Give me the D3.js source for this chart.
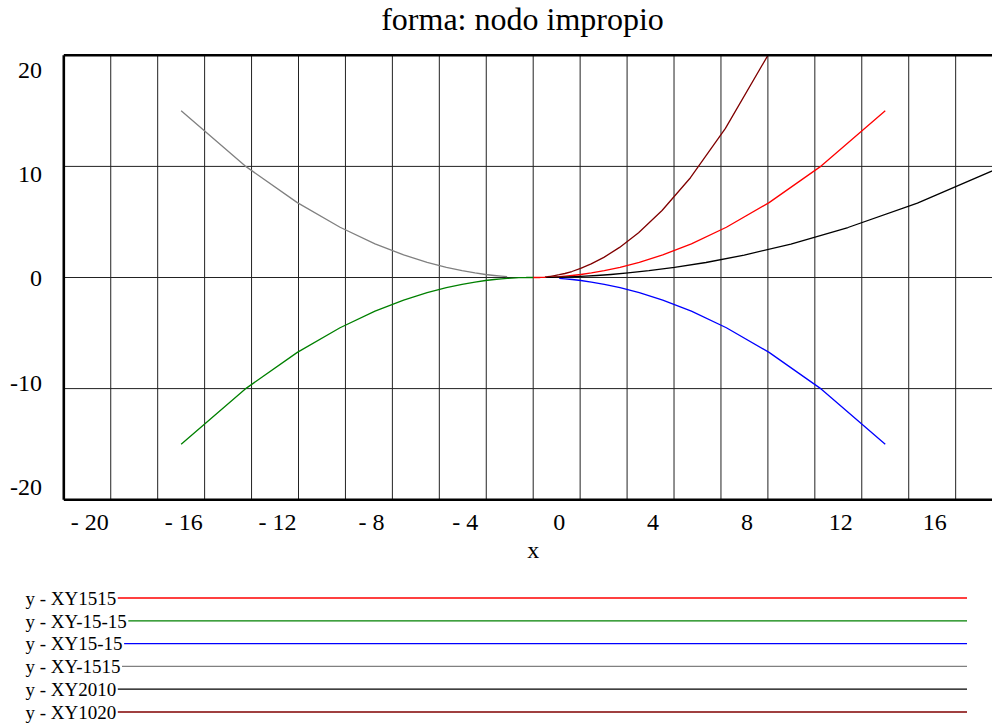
<!DOCTYPE html>
<html>
<head>
<meta charset="utf-8">
<script src="https://cdn.jsdelivr.net/npm/d3@7"></script>
<style>
  html, body { margin: 0; padding: 0; background: #fff; }
  svg { display: block; }
</style>
</head>
<body>
<svg id="chart" width="992" height="724"></svg>
<script>
// Trajectories of the phase portrait, sampled along each solution curve.
const seriesNames = ["y - XY1515", "y - XY-15-15", "y - XY15-15", "y - XY-1515", "y - XY2010", "y - XY1020"];
const seriesColors = ["#ff0000", "#008000", "#0000ff", "#808080", "#000000", "#800000"];

const xy1515X = [15, 12.28, 10.05, 8.23, 6.74, 5.52, 4.52, 3.70, 3.03, 2.48, 2.03, 1.66, 1.36, 1.11, 0.91, 0.75, 0.61, 0.50, 0.41, 0.33, 0.27, 0.20, 0.10, 0];
const xy1515Y = [15, 10.05, 6.74, 4.52, 3.03, 2.03, 1.36, 0.91, 0.61, 0.41, 0.27, 0.18, 0.12, 0.08, 0.06, 0.04, 0.02, 0.02, 0.01, 0.01, 0, 0, 0, 0];

const xyM15M15X = [-15, -12.28, -10.05, -8.23, -6.74, -5.52, -4.52, -3.70, -3.03, -2.48, -2.03, -1.66, -1.36, -1.11, -0.91, -0.75, -0.61, -0.50, -0.41, -0.33, -0.27, -0.20, -0.10, 0];
const xyM15M15Y = [-15, -10.05, -6.74, -4.52, -3.03, -2.03, -1.36, -0.91, -0.61, -0.41, -0.27, -0.18, -0.12, -0.08, -0.06, -0.04, -0.02, -0.02, -0.01, -0.01, 0, 0, 0, 0];

const xy15M15X = [15, 12.28, 10.05, 8.23, 6.74, 5.52, 4.52, 3.70, 3.03, 2.48, 2.03, 1.66, 1.36, 1.11];
const xy15M15Y = [-15, -10.05, -6.74, -4.52, -3.03, -2.03, -1.36, -0.91, -0.61, -0.41, -0.27, -0.18, -0.12, -0.08];

const xyM1515X = [-15, -12.28, -10.05, -8.23, -6.74, -5.52, -4.52, -3.70, -3.03, -2.48, -2.03, -1.66, -1.36, -1.11];
const xyM1515Y = [15, 10.05, 6.74, 4.52, 3.03, 2.03, 1.36, 0.91, 0.61, 0.41, 0.27, 0.18, 0.12, 0.08];

const xy2010X = [20, 16.37, 13.41, 10.98, 8.99, 7.36, 6.02, 4.93, 4.04, 3.31, 2.71, 2.22, 1.81, 1.49, 1.22, 1.00, 0.82, 0.67, 0.55];
const xy2010Y = [10, 6.70, 4.50, 3.01, 2.02, 1.35, 0.91, 0.61, 0.41, 0.27, 0.18, 0.12, 0.08, 0.06, 0.04, 0.03, 0.02, 0.01, 0.01];

const xy1020X = [10, 8.19, 6.70, 5.49, 4.49, 3.68, 3.01, 2.47, 2.02, 1.65, 1.35, 1.11, 0.91, 0.74, 0.61, 0.50];
const xy1020Y = [20, 13.42, 8.98, 6.03, 4.03, 2.71, 1.81, 1.22, 0.82, 0.54, 0.36, 0.25, 0.17, 0.11, 0.07, 0.05];

// Axis ticks and grid
const xTickValues = [-20, -16, -12, -8, -4, 0, 4, 8, 12, 16];
const xTickLabels = ["- 20", "- 16", "- 12", "- 8", "- 4", "0", "4", "8", "12", "16"];
const yTickValues = [20, 10, 0, -10, -20];
const yTickLabels = ["20", "10", "0", "-10", "-20"];
const xGridValues = [-18, -16, -14, -12, -10, -8, -6, -4, -2, 0, 2, 4, 6, 8, 10, 12, 14, 16, 18];
const yGridValues = [10, 0, -10];

const titleText = "forma: nodo impropio";
const xAxisTitle = "x";

const seriesX = [xy1515X, xyM15M15X, xy15M15X, xyM1515X, xy2010X, xy1020X];
const seriesY = [xy1515Y, xyM15M15Y, xy15M15Y, xyM1515Y, xy2010Y, xy1020Y];

const serifFont = "'Liberation Serif', Tinos, 'Times New Roman', Times, 'DejaVu Serif', serif";

const svg = d3.select("#chart").attr("font-family", serifFont);

const x = d3.scaleLinear().domain([-20, 20]).range([63.8, 1002.6]);
const y = d3.scaleLinear().domain([-20, 20]).range([499.7, 55.3]);

// Tick labels sit on their own slightly shifted scales
const xLabel = d3.scaleLinear().domain([-20, 20]).range([x(-20) + 26, x(20) + 26]);
const yLabel = d3.scaleLinear().domain([-20, 20]).range([495, 77.5]);

function addText(parent) {
  return parent.append("text").attr("font-family", serifFont).attr("fill", "#000");
}

// Title
addText(svg)
  .attr("x", 522.5).attr("y", 29.5)
  .attr("text-anchor", "middle")
  .attr("font-size", 32)
  .text(titleText);

// Clip region for the plot area
svg.append("clipPath").attr("id", "plotClip")
  .append("rect")
  .attr("x", x(-20)).attr("y", y(20))
  .attr("width", x(20) - x(-20)).attr("height", y(-20) - y(20));

// Grid
const grid = svg.append("g");
grid.selectAll("line.v").data(xGridValues).join("line")
  .attr("class", "v")
  .attr("x1", d => x(d)).attr("x2", d => x(d))
  .attr("y1", y(20)).attr("y2", y(-20))
  .attr("stroke", "#222").attr("stroke-width", 1);
grid.selectAll("line.h").data(yGridValues).join("line")
  .attr("class", "h")
  .attr("x1", x(-20)).attr("x2", x(20))
  .attr("y1", d => y(d)).attr("y2", d => y(d))
  .attr("stroke", "#222").attr("stroke-width", 1);

// Curves
const line = d3.line().x(d => x(d[0])).y(d => y(d[1]));
const curves = svg.append("g").attr("clip-path", "url(#plotClip)");
seriesX.forEach((xs, i) => {
  const pts = xs.map((v, j) => [v, seriesY[i][j]]);
  curves.append("path")
    .datum(pts)
    .attr("d", line)
    .attr("fill", "none")
    .attr("stroke", seriesColors[i])
    .attr("stroke-width", 1.3)
    .attr("stroke-linejoin", "round");
});

// Plot frame: left, top and bottom edges
const frame = svg.append("g").attr("stroke", "#000").attr("stroke-width", 2.6);
frame.append("line").attr("x1", x(-20)).attr("x2", x(-20)).attr("y1", y(20)).attr("y2", y(-20));
frame.append("line").attr("x1", x(-20)).attr("x2", x(20)).attr("y1", y(20)).attr("y2", y(20));
frame.append("line").attr("x1", x(-20)).attr("x2", x(20)).attr("y1", y(-20)).attr("y2", y(-20));

// Axis labels
const xLabels = svg.append("g");
xTickValues.forEach((v, i) => {
  addText(xLabels)
    .attr("x", xLabel(v)).attr("y", 530)
    .attr("text-anchor", "middle")
    .attr("font-size", 24)
    .text(xTickLabels[i]);
});

const yLabels = svg.append("g");
yTickValues.forEach((v, i) => {
  addText(yLabels)
    .attr("x", 42).attr("y", yLabel(v))
    .attr("text-anchor", "end")
    .attr("font-size", 24)
    .text(yTickLabels[i]);
});

addText(svg)
  .attr("x", x(0)).attr("y", 558)
  .attr("text-anchor", "middle")
  .attr("font-size", 24)
  .text(xAxisTitle);

// Legend
const legendRowY = d3.scaleLinear().domain([0, 5]).range([598, 712]);
const legend = svg.append("g");
seriesNames.forEach((name, i) => {
  const ly = legendRowY(i);
  const t = addText(legend)
    .attr("x", 25.5).attr("y", ly + 6.7)
    .attr("font-size", 19)
    .text(name);
  const end = 25.5 + t.node().getComputedTextLength();
  legend.append("line")
    .attr("x1", end + 1.5).attr("x2", 967)
    .attr("y1", ly).attr("y2", ly)
    .attr("stroke", seriesColors[i]).attr("stroke-width", 1.3);
});
</script>
</body>
</html>
